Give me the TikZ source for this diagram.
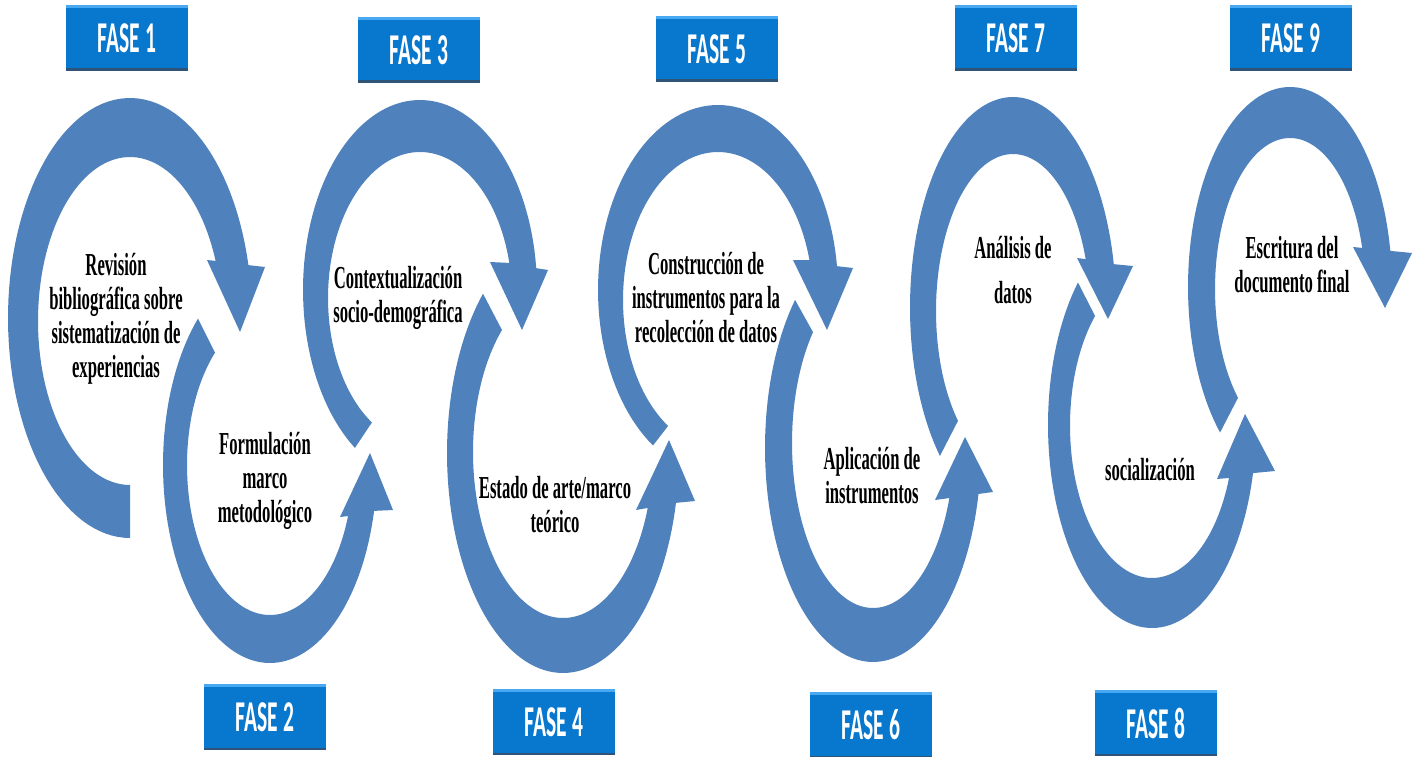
\documentclass[tikz,border=0pt]{standalone}
\usepackage{fontspec}
\newfontfamily\bodyfont{Liberation Serif}[FakeStretch=0.52]
\newfontfamily\phasefont{Carlito}[FakeStretch=0.49]
\definecolor{ringblue}{RGB}{79,129,189}
\definecolor{boxblue}{RGB}{8,119,206}
\definecolor{boxtop}{RGB}{72,168,242}
\definecolor{boxedge}{RGB}{48,84,120}
\begin{document}
\begin{tikzpicture}[x=1pt,y=-1pt,
  ring/.style={fill=ringblue},
  fasebox/.style={fill=boxblue, text=white, minimum width=122pt, minimum height=66pt,
    inner sep=0pt, font=\phasefont\bfseries\fontsize{44}{44}\selectfont,
    path picture={
      \fill[boxtop] (path picture bounding box.north west) rectangle ([yshift=-3pt]path picture bounding box.north east);
      \fill[boxedge] ([yshift=2.5pt]path picture bounding box.south west) rectangle (path picture bounding box.south east);}},
  stagetext/.style={align=center, inner sep=0pt, text=black,
    font=\bodyfont\bfseries\fontsize{32}{34}\selectfont}]
\useasboundingbox (0,0) rectangle (1421,757);

% ---- curved arrows (outer rim, arrow head, inner rim) ----
% phase 1
\fill[ring] plot[variable=\t, domain=90:346.1, samples=90] ({130+122*cos(\t)},{318+220*sin(\t)})
  -- (265,267) -- (240,332) -- (207,260)
  -- plot[variable=\t, domain=338.5:90, samples=90] ({130+92*cos(\t)},{321+164*sin(\t)}) -- cycle;
% phase 2
\fill[ring] plot[variable=\t, domain=227.7:13.4, samples=90] ({270+107*cos(\t)},{465+198*sin(\t)})
  -- (393,510) -- (370,453) -- (340,517)
  -- plot[variable=\t, domain=19.9:228.5, samples=90] ({270+83*cos(\t)},{465+150*sin(\t)}) -- cycle;
% phase 3
\fill[ring] plot[variable=\t, domain=123.8:353.4, samples=90] ({420+117*cos(\t)},{290+190*sin(\t)})
  -- (548,270) -- (522,330) -- (490,262)
  -- plot[variable=\t, domain=346.1:121.5, samples=90] ({420+92*cos(\t)},{298+146*sin(\t)}) -- cycle;
% phase 4
\fill[ring] plot[variable=\t, domain=226.4:13.1, samples=90] ({563+116*cos(\t)},{453+220*sin(\t)})
  -- (695,501) -- (669,440) -- (636,510)
  -- plot[variable=\t, domain=19.7:227.3, samples=90] ({563+90*cos(\t)},{452+166*sin(\t)}) -- cycle;
% phase 5
\fill[ring] plot[variable=\t, domain=122.8:352.6, samples=90] ({718+120*cos(\t)},{290+185*sin(\t)})
  -- (853,268) -- (827,330) -- (793,260)
  -- plot[variable=\t, domain=344.4:121.7, samples=90] ({718+95*cos(\t)},{300+148*sin(\t)}) -- cycle;
% phase 6
\fill[ring] plot[variable=\t, domain=223.8:12.4, samples=90] ({873+108*cos(\t)},{448+214*sin(\t)})
  -- (993,492) -- (965,437) -- (935,500)
  -- plot[variable=\t, domain=19.5:222.2, samples=90] ({873+81*cos(\t)},{443+165*sin(\t)}) -- cycle;
% phase 7
\fill[ring] plot[variable=\t, domain=135.2:348.1, samples=90] ({1013+103*cos(\t)},{307.6+210.6*sin(\t)})
  -- (1133,266) -- (1108,319) -- (1077,258)
  -- plot[variable=\t, domain=340.7:135.6, samples=90] ({1013+77*cos(\t)},{311+157*sin(\t)}) -- cycle;
% phase 8
\fill[ring] plot[variable=\t, domain=224.6:13.7, samples=90] ({1152+104*cos(\t)},{425+203*sin(\t)})
  -- (1275,471) -- (1245,414) -- (1217,479)
  -- plot[variable=\t, domain=20.1:226, samples=90] ({1152+82*cos(\t)},{425.6+152.4*sin(\t)}) -- cycle;
% phase 9
\fill[ring] plot[variable=\t, domain=133.3:349.6, samples=90] ({1290+102*cos(\t)},{287+200*sin(\t)})
  -- (1412,253) -- (1385,308) -- (1353,247)
  -- plot[variable=\t, domain=344.2:133.9, samples=90] ({1290+75*cos(\t)},{289+151*sin(\t)}) -- cycle;

% ---- stage descriptions ----
\node[stagetext] (t1) at (116,319) {Revisión\\bibliográfica sobre\\sistematización de\\experiencias};
\node[stagetext] (t2) at (265,481) {Formulación\\marco\\metodológico};
\node[stagetext] (t3) at (398,298) {Contextualización\\socio-demográfica};
\node[stagetext] (t4) at (555,505) {Estado de arte/marco\\teórico};
\node[stagetext] (t5) at (706,298) {Construcción de\\instrumentos para la\\recolección de datos};
\node[stagetext] (t6) at (872,476) {Aplicación de\\instrumentos};
\node[stagetext] (t7) at (1013,270) {Análisis de\\[11pt]datos};
\node[stagetext] (t8) at (1150,470) {socialización};
\node[stagetext] (t9) at (1292,265) {Escritura del\\documento final};

% ---- phase labels ----
\node[fasebox] (f1) at (127,38) {FASE 1};
\node[fasebox] (f2) at (265,717) {FASE 2};
\node[fasebox] (f3) at (419,50) {FASE 3};
\node[fasebox] (f4) at (554,722) {FASE 4};
\node[fasebox] (f5) at (717,49) {FASE 5};
\node[fasebox] (f6) at (871,725) {FASE 6};
\node[fasebox] (f7) at (1016,38) {FASE 7};
\node[fasebox] (f8) at (1156,723) {FASE 8};
\node[fasebox] (f9) at (1291,38) {FASE 9};
\end{tikzpicture}
\end{document}
